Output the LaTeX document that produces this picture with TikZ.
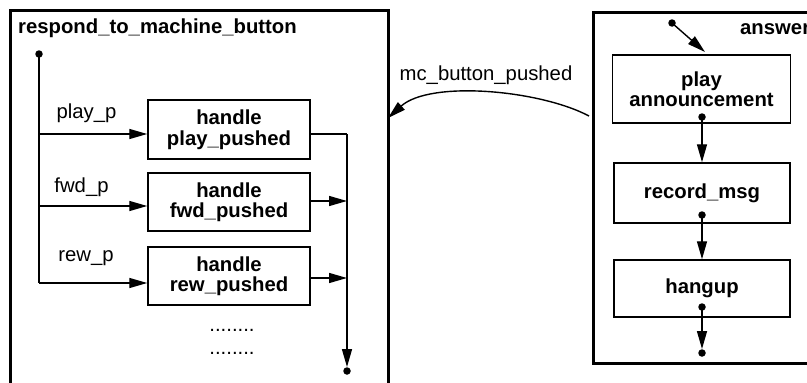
\documentclass[tikz,border=0pt]{standalone}
\usepackage{fontspec}
\setmainfont{Liberation Sans}
\usetikzlibrary{arrows.meta}
\begin{document}
\begin{tikzpicture}[x=1pt,y=-1pt,
  arr/.style={-{Triangle[length=18pt,width=10pt]}},
  conn/.style={line width=1.4pt},
  frame/.style={draw,line width=3pt},
  proc/.style={draw,line width=1.5pt,align=center,inner sep=0pt,
    font=\fontsize{20.3}{20.5}\selectfont\bfseries},
  lbl/.style={font=\fontsize{20.3}{20.5}\selectfont,inner sep=0pt},
  title/.style={font=\fontsize{20.3}{20.5}\selectfont\bfseries,inner sep=0pt},
  dot/.style={circle,fill,inner sep=0pt,minimum size=7.5pt}]
\clip (0,0) rectangle (807,383);

% --- left state: respond_to_machine_button ---
\draw[frame] (10,10) rectangle (388,400);
\node[title,anchor=base west] (ltitle) at (18,33) {respond\_to\_machine\_button};

\node[proc,minimum width=162pt,minimum height=59pt] (hplay) at (229,129.5) {handle\\play\_pushed};
\node[proc,minimum width=162pt,minimum height=58pt] (hfwd)  at (229,202) {handle\\fwd\_pushed};
\node[proc,minimum width=162pt,minimum height=58pt] (hrew)  at (229,276) {handle\\rew\_pushed};

\node[dot] (s0) at (39,54) {};
\coordinate (b1) at (39,134);
\coordinate (b2) at (39,206);
\coordinate (b3) at (39,283);
\draw[conn] (s0.center) -- (b3);
\draw[conn,arr] (b1) -- (b1 -| hplay.west);
\draw[conn,arr] (b2) -- (b2 -| hfwd.west);
\draw[conn,arr] (b3) -- (b3 -| hrew.west);

\node[lbl] (lplay) at (86.5,113) {play\_p};
\node[lbl] (lfwd)  at (81.5,187) {fwd\_p};
\node[lbl] (lrew)  at (86,258)   {rew\_p};

\coordinate (r1) at (347,134);
\coordinate (r2) at (347,201);
\coordinate (r3) at (347,278);
\node[dot] (e1) at (347,371) {};
\draw[conn] (r1 -| hplay.east) -- (r1);
\draw[conn,arr] (r1) -- (e1);
\draw[conn,arr] (r2 -| hfwd.east) -- (r2);
\draw[conn,arr] (r3 -| hrew.east) -- (r3);

\node[lbl] (more1) at (232,330) {........};
\node[lbl] (more2) at (232,353) {........};

% --- right state: answer ---
\draw[frame] (593,12) rectangle (830,363);
\node[title,anchor=base west] (rtitle) at (740,34) {answer};

\node[proc,minimum width=178pt,minimum height=68pt] (pann) at (701.5,89) {play\\announcement};
\node[proc,minimum width=176pt,minimum height=60pt] (rec)  at (702,193) {record\_msg};
\node[proc,minimum width=176pt,minimum height=57pt] (hang) at (702,288.5) {hangup};

\node[dot] (s1) at (672,23) {};
\coordinate (t1) at (705,52);
\draw[conn,arr] (s1.center) -- (t1);

\node[dot] (d1) at (702,117) {};
\node[dot] (d2) at (702,215) {};
\node[dot] (d3) at (702,307) {};
\node[dot] (e2) at (702,353) {};
\draw[conn,arr] (d1.center) -- (rec.north);
\draw[conn,arr] (d2.center) -- (hang.north);
\draw[conn,arr] (d3.center) -- (e2);

% --- transition between the states ---
\coordinate (c0) at (589,116);
\coordinate (c1) at (388,118);
\draw[conn,arr] (c0) .. controls (540,90) and (430,80) .. (c1);
\node[lbl] (trig) at (486,75) {mc\_button\_pushed};
\end{tikzpicture}
\end{document}
